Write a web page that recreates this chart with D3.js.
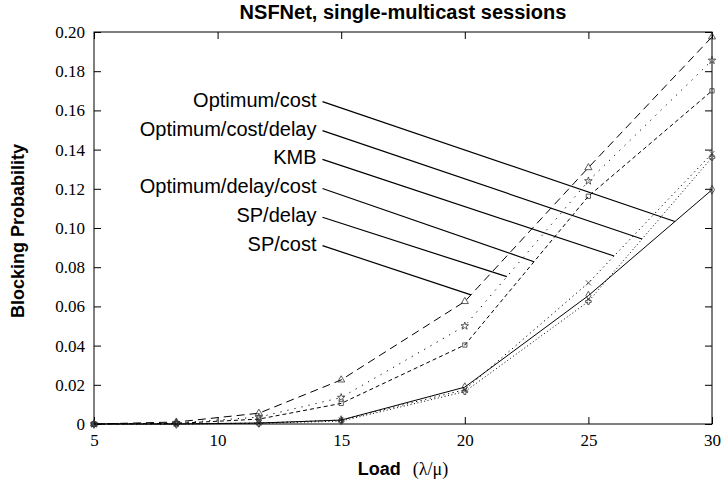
<!DOCTYPE html>
<html>
<head>
<meta charset="utf-8">
<script src="https://cdn.jsdelivr.net/npm/d3@7"></script>
<style>
  html, body { margin: 0; padding: 0; background: #fff; }
  svg { display: block; }
</style>
</head>
<body>
<svg id="chart" width="722" height="482"></svg>
<script>
// ---------- data ----------
const loads = [5, 8.33, 11.67, 15, 20, 25, 30];
const xTicks = [5, 10, 15, 20, 25, 30];
const yTicks = [0, 0.02, 0.04, 0.06, 0.08, 0.10, 0.12, 0.14, 0.16, 0.18, 0.20];

const seriesNames = ["SP/cost", "SP/delay", "Optimum/delay/cost", "KMB", "Optimum/cost/delay", "Optimum/cost"];
const spCost          = [0, 0.0010, 0.0055, 0.0225, 0.0625, 0.1308, 0.1975];
const spDelay         = [0, 0.0005, 0.0035, 0.0135, 0.0500, 0.1240, 0.1855];
const optDelayCost    = [0, 0.0003, 0.0025, 0.0105, 0.0403, 0.1162, 0.1700];
const kmb             = [0, 0.0000, 0.0005, 0.0020, 0.0175, 0.0720, 0.1380];
const optCostDelay    = [0, 0.0000, 0.0003, 0.0015, 0.0165, 0.0625, 0.1360];
const optCost         = [0, 0.0000, 0.0005, 0.0020, 0.0188, 0.0655, 0.1195];
const seriesValues = [spCost, spDelay, optDelayCost, kmb, optCostDelay, optCost];

// annotation labels (top to bottom) and where their pointer lines meet the curves
const labelNames   = ["Optimum/cost", "Optimum/cost/delay", "KMB", "Optimum/delay/cost", "SP/delay", "SP/cost"];
const labelValues  = [0.1655, 0.1507, 0.1360, 0.1212, 0.1065, 0.0920];
const labelLoad    = 14.0;
const pointerLoads = [28.5, 27.17, 26.04, 22.8, 21.7, 20.25];

// ---------- styles ----------
const styles = {
  "SP/cost":            { dash: "8,5",    symbol: d3.symbolTriangle, size: 22 },
  "SP/delay":           { dash: "1.2,6",  symbol: d3.symbolStar,     size: 18 },
  "Optimum/delay/cost": { dash: "4,3",    symbol: d3.symbolSquare,   size: 18 },
  "KMB":                { dash: "1.2,3.5",symbol: d3.symbolTimes,    size: 18 },
  "Optimum/cost/delay": { dash: "1,2.5",  symbol: d3.symbolCross,    size: 18 },
  "Optimum/cost":       { dash: null,     symbol: d3.symbolDiamond,  size: 22 }
};

// ---------- layout ----------
const W = 722, H = 482;
const mLeft = 94, mRight = 712, mTop = 32, mBottom = 424;

const svg = d3.select("#chart");
const x = d3.scaleLinear().domain([5, 30]).range([mLeft, mRight]);
const y = d3.scaleLinear().domain([0, 0.2]).range([mBottom, mTop]);

const serif = "'Liberation Serif', 'Times New Roman', serif";
const sans = "'Liberation Sans', Arial, Helvetica, sans-serif";

// frame
svg.append("rect")
  .attr("x", mLeft).attr("y", mTop)
  .attr("width", mRight - mLeft).attr("height", mBottom - mTop)
  .attr("fill", "none").attr("stroke", "#000").attr("stroke-width", 1);

const yFmt = d => d === 0 ? "0" : d3.format(".2f")(d);

const gx = svg.append("g").attr("transform", `translate(0,${mBottom})`)
  .call(d3.axisBottom(x).tickValues(xTicks).tickSizeInner(-7).tickSizeOuter(0).tickPadding(10));
const gy = svg.append("g").attr("transform", `translate(${mLeft},0)`)
  .call(d3.axisLeft(y).tickValues(yTicks).tickFormat(yFmt).tickSizeInner(-7).tickSizeOuter(0).tickPadding(9));
const gt = svg.append("g").attr("transform", `translate(0,${mTop})`)
  .call(d3.axisTop(x).tickValues(xTicks).tickFormat("").tickSizeInner(-7).tickSizeOuter(0));
const gr = svg.append("g").attr("transform", `translate(${mRight},0)`)
  .call(d3.axisRight(y).tickValues(yTicks).tickFormat("").tickSizeInner(-7).tickSizeOuter(0));

[gx, gy, gt, gr].forEach(g => {
  g.select(".domain").remove();
  g.selectAll(".tick line").attr("stroke", "#000").attr("stroke-width", 1);
  g.selectAll(".tick text").attr("fill", "#000").style("font-family", serif).style("font-size", "17px");
});

// curves
const line = d3.line().x((d, i) => x(loads[i])).y(d => y(d));
seriesNames.forEach((name, k) => {
  const st = styles[name];
  const vals = seriesValues[k];
  svg.append("path")
    .datum(vals)
    .attr("d", line)
    .attr("fill", "none")
    .attr("stroke", "#000")
    .attr("stroke-width", 1)
    .attr("stroke-dasharray", st.dash);
  svg.append("g").selectAll("path")
    .data(vals)
    .join("path")
    .attr("transform", (d, i) => `translate(${x(loads[i])},${y(d)})`)
    .attr("d", d3.symbol().type(st.symbol).size(st.size))
    .attr("fill", "none")
    .attr("stroke", "#333")
    .attr("stroke-width", 0.8);
});

// annotations
function valueAt(vals, L) {
  for (let i = 0; i < loads.length - 1; i++) {
    if (L >= loads[i] && L <= loads[i + 1]) {
      const t = (L - loads[i]) / (loads[i + 1] - loads[i]);
      return vals[i] + t * (vals[i + 1] - vals[i]);
    }
  }
  return vals[vals.length - 1];
}
labelNames.forEach((name, k) => {
  const vals = seriesValues[seriesNames.indexOf(name)];
  const ly = y(labelValues[k]);
  svg.append("text")
    .attr("x", x(labelLoad)).attr("y", ly)
    .attr("text-anchor", "end").attr("dominant-baseline", "central")
    .style("font-family", sans).style("font-size", "20px")
    .text(name);
  svg.append("line")
    .attr("x1", x(labelLoad) + 6).attr("y1", ly + 2)
    .attr("x2", x(pointerLoads[k])).attr("y2", y(valueAt(vals, pointerLoads[k])))
    .attr("stroke", "#000").attr("stroke-width", 1.2);
});

// title and axis labels
svg.append("text")
  .attr("x", (mLeft + mRight) / 2).attr("y", 19)
  .attr("text-anchor", "middle")
  .style("font-family", sans).style("font-weight", "bold").style("font-size", "20px")
  .text("NSFNet, single-multicast sessions");

const xl = svg.append("text")
  .attr("x", (mLeft + mRight) / 2).attr("y", 475)
  .attr("text-anchor", "middle");
xl.append("tspan").style("font-family", sans).style("font-weight", "bold").style("font-size", "18px").text("Load");
xl.append("tspan").style("font-family", serif).style("font-size", "18px").attr("dx", 12).text("(λ/μ)");

svg.append("text")
  .attr("transform", `translate(24,${(mTop + mBottom) / 2 + 3}) rotate(-90)`)
  .attr("text-anchor", "middle")
  .style("font-family", sans).style("font-weight", "bold").style("font-size", "18px")
  .text("Blocking Probability");
</script>
</body>
</html>
